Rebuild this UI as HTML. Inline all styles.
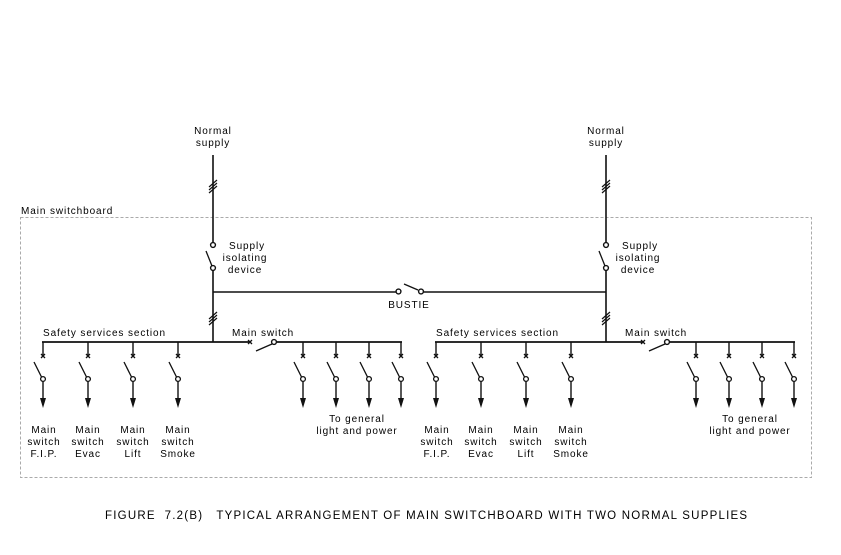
<!DOCTYPE html>
<html><head><style>
html,body{margin:0;padding:0;background:#fff;}
svg{display:block;}
text{font-family:"Liberation Sans",sans-serif;font-size:10px;fill:#000;letter-spacing:0.9px;}
</style></head><body>
<svg width="841" height="555" viewBox="0 0 841 555" xmlns="http://www.w3.org/2000/svg">
<defs>
<g id="br">
  <line x1="0" y1="0" x2="0" y2="14" stroke="#111" stroke-width="1.4"/>
  <path d="M-2,12 L2,16 M2,12 L-2,16" stroke="#111" stroke-width="1.3"/>
  <line x1="-9" y1="20" x2="-1.5" y2="35" stroke="#111" stroke-width="1.3"/>
  <circle cx="0" cy="37" r="2.4" fill="#fff" stroke="#111" stroke-width="1.3"/>
  <line x1="0" y1="39.5" x2="0" y2="58" stroke="#111" stroke-width="1.4"/>
  <path d="M-3,56 L3,56 L0,66 Z" fill="#111"/>
</g>
<g id="side">
  <line x1="213" y1="155" x2="213" y2="243" stroke="#111" stroke-width="1.6"/>
  <path d="M209,190 L217,183 M209,187 L217,180 M209,193 L217,186" stroke="#111" stroke-width="1.2"/>
  <circle cx="213" cy="245" r="2.4" fill="#fff" stroke="#111" stroke-width="1.4"/>
  <line x1="206" y1="251" x2="212" y2="266" stroke="#111" stroke-width="1.3"/>
  <circle cx="213" cy="268" r="2.4" fill="#fff" stroke="#111" stroke-width="1.4"/>
  <line x1="213" y1="270.5" x2="213" y2="342" stroke="#111" stroke-width="1.6"/>
  <path d="M209,322 L217,315 M209,319 L217,312 M209,325 L217,318" stroke="#111" stroke-width="1.2"/>
  <line x1="42" y1="342" x2="249" y2="342" stroke="#111" stroke-width="1.8"/>
  <path d="M248,340 L252,344 M252,340 L248,344" stroke="#111" stroke-width="1.3"/>
  <line x1="256" y1="351" x2="272" y2="344" stroke="#111" stroke-width="1.3"/>
  <circle cx="274" cy="342" r="2.4" fill="#fff" stroke="#111" stroke-width="1.4"/>
  <line x1="276.5" y1="342" x2="402" y2="342" stroke="#111" stroke-width="1.8"/>
  <use href="#br" x="43" y="342"/>
  <use href="#br" x="88" y="342"/>
  <use href="#br" x="133" y="342"/>
  <use href="#br" x="178" y="342"/>
  <use href="#br" x="303" y="342"/>
  <use href="#br" x="336" y="342"/>
  <use href="#br" x="369" y="342"/>
  <use href="#br" x="401" y="342"/>
  <text x="213" y="134" text-anchor="middle">Normal</text>
  <text x="213" y="146" text-anchor="middle">supply</text>
  <text x="247" y="249" text-anchor="middle">Supply</text>
  <text x="245" y="261" text-anchor="middle">isolating</text>
  <text x="245" y="273" text-anchor="middle">device</text>
  <text x="43" y="336">Safety services section</text>
  <text x="232" y="336">Main switch</text>
  <text x="44" y="433" text-anchor="middle">Main</text>
  <text x="44" y="445" text-anchor="middle">switch</text>
  <text x="44" y="457" text-anchor="middle">F.I.P.</text>
  <text x="88" y="433" text-anchor="middle">Main</text>
  <text x="88" y="445" text-anchor="middle">switch</text>
  <text x="88" y="457" text-anchor="middle">Evac</text>
  <text x="133" y="433" text-anchor="middle">Main</text>
  <text x="133" y="445" text-anchor="middle">switch</text>
  <text x="133" y="457" text-anchor="middle">Lift</text>
  <text x="178" y="433" text-anchor="middle">Main</text>
  <text x="178" y="445" text-anchor="middle">switch</text>
  <text x="178" y="457" text-anchor="middle">Smoke</text>
  <text x="357" y="422" text-anchor="middle">To general</text>
  <text x="357" y="434" text-anchor="middle">light and power</text>
</g>
</defs>
<rect x="20.5" y="217.5" width="791" height="260" fill="none" stroke="#aaa" stroke-width="1" stroke-dasharray="3,2"/>
<text x="21" y="214">Main switchboard</text>
<use href="#side" x="0" y="0"/>
<use href="#side" x="393" y="0"/>
<line x1="213" y1="292" x2="396" y2="292" stroke="#111" stroke-width="1.4"/>
<circle cx="398.5" cy="291.5" r="2.4" fill="#fff" stroke="#111" stroke-width="1.4"/>
<line x1="404" y1="284" x2="418" y2="290" stroke="#111" stroke-width="1.3"/>
<circle cx="421" cy="291.5" r="2.4" fill="#fff" stroke="#111" stroke-width="1.4"/>
<line x1="423.5" y1="292" x2="606" y2="292" stroke="#111" stroke-width="1.4"/>
<text x="409" y="308" text-anchor="middle">BUSTIE</text>
<text x="105" y="519" textLength="643" lengthAdjust="spacing" style="font-size:11.5px;white-space:pre" xml:space="preserve">FIGURE  7.2(B)   TYPICAL ARRANGEMENT OF MAIN SWITCHBOARD WITH TWO NORMAL SUPPLIES</text>
</svg>
</body></html>
